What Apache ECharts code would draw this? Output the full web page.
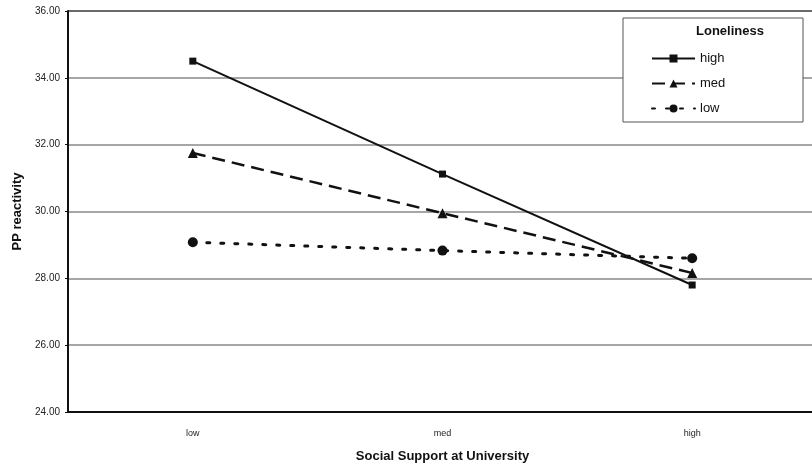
<!DOCTYPE html>
<html><head><meta charset="utf-8">
<script src="https://cdn.jsdelivr.net/npm/echarts@6/dist/echarts.min.js"></script>
<style>html,body{margin:0;padding:0;background:#fff}#c{width:812px;height:467px}</style>
</head><body><div id="c"></div>
<script>
const categories = ['low', 'med', 'high'];
const highLoneliness = [34.5, 31.12, 27.8];
const medLoneliness = [31.75, 29.95, 28.16];
const lowLoneliness = [29.08, 28.83, 28.6];
const yTicks = [24, 26, 28, 30, 32, 34, 36];

const FONT = 'Liberation Sans, Arial, sans-serif';
const chart = echarts.init(document.getElementById('c'));
chart.setOption({
  animation: false,
  backgroundColor: '#fff',
  grid: { left: 68, right: -5, top: 11, bottom: 55, outerBoundsMode: 'none', containLabel: false },
  xAxis: {
    type: 'category', data: categories, boundaryGap: true,
    axisLine: { lineStyle: { color: '#111', width: 2 } },
    axisTick: { show: false },
    axisLabel: { color: '#222', fontSize: 9, fontFamily: FONT, margin: 17 },
    name: 'Social Support at University', nameLocation: 'middle', nameGap: 38,
    nameTextStyle: { color: '#111', fontSize: 13, fontWeight: 'bold', fontFamily: FONT }
  },
  yAxis: {
    type: 'value', min: yTicks[0], max: yTicks[yTicks.length - 1], interval: 2,
    axisLine: { show: true, lineStyle: { color: '#111', width: 2 } },
    axisTick: { show: true, length: 3, lineStyle: { color: '#111' } },
    axisLabel: { color: '#222', fontSize: 10, fontFamily: FONT, margin: 8,
      formatter: v => v.toFixed(2) },
    splitLine: { lineStyle: { color: '#888', width: 1.5 } },
    name: 'PP reactivity', nameLocation: 'middle', nameGap: 43,
    nameTextStyle: { color: '#111', fontSize: 13, fontWeight: 'bold', fontFamily: FONT }
  },
  graphic: [
    { type: 'line', shape: { x1: 68, y1: 11, x2: 812, y2: 11 }, style: { stroke: '#111', lineWidth: 2 } },
    { type: 'rect', shape: { x: 623, y: 18, width: 180, height: 104 }, style: { fill: '#fff', stroke: '#555', lineWidth: 1 }, z: 10 },
    { type: 'text', left: 696, top: 25, z: 11, style: { text: 'Loneliness', fill: '#111', font: 'bold 13px ' + FONT } }
  ],
  legend: {
    data: ['high', 'med', 'low'], orient: 'vertical', left: 646, top: 47,
    itemWidth: 43, itemHeight: 10, itemGap: 12, z: 12,
    textStyle: { color: '#111', fontSize: 13, fontFamily: FONT }
  },
  series: [
    { name: 'high', type: 'line', data: highLoneliness, symbol: 'rect', symbolSize: 7,
      lineStyle: { color: '#111', width: 2 }, itemStyle: { color: '#111' } },
    { name: 'med', type: 'line', data: medLoneliness, symbol: 'triangle', symbolSize: 10,
      lineStyle: { color: '#111', width: 2.5, type: [13, 7] }, itemStyle: { color: '#111' } },
    { name: 'low', type: 'line', data: lowLoneliness, symbol: 'circle', symbolSize: 10,
      lineStyle: { color: '#111', width: 3, type: [3, 11], cap: 'round' }, itemStyle: { color: '#111' } }
  ]
});
</script></body></html>
